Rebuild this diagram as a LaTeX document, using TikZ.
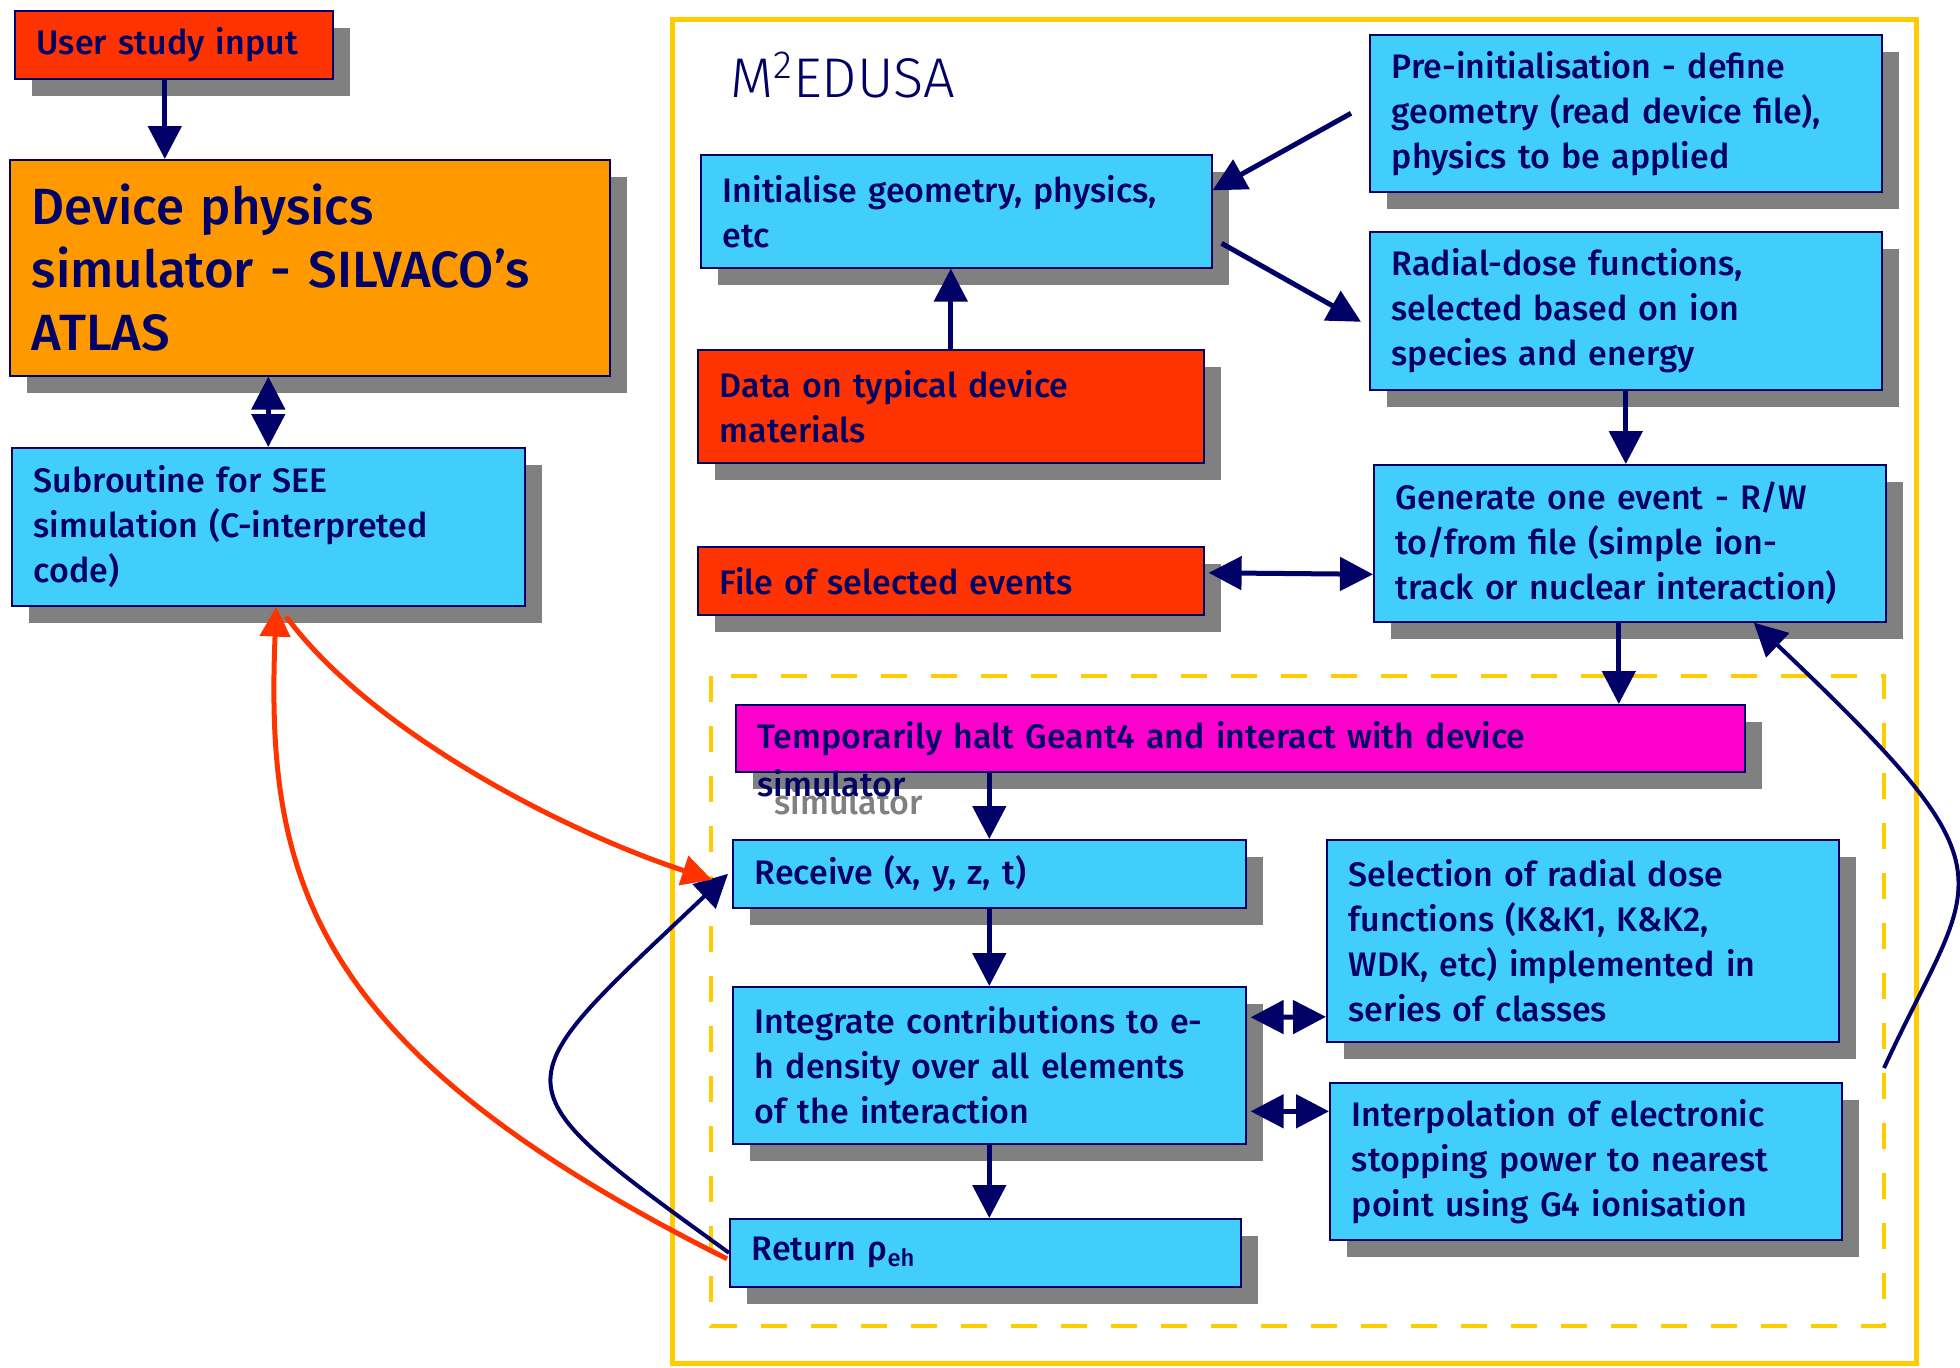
\documentclass[tikz,border=0pt]{standalone}
\usepackage{fontspec}
\setmainfont{Fira Sans}[UprightFont=* Medium]
\newfontfamily\titlefont{Fira Sans Light}
\usetikzlibrary{arrows.meta,shadows}
\hyphenpenalty=10000

\definecolor{navy}{RGB}{0,0,102}
\definecolor{skyfill}{RGB}{66,206,250}
\definecolor{redfill}{RGB}{255,51,0}
\definecolor{orangefill}{RGB}{255,153,0}
\definecolor{magentafill}{RGB}{255,0,204}
\definecolor{shadowgrey}{RGB}{128,128,128}
\definecolor{frameyellow}{RGB}{255,204,0}

\tikzset{
  box/.style 2 args={draw=navy, line width=0.8pt, anchor=north west, inner xsep=11pt, inner ysep=0pt,
    text width=#1, minimum height=#2, align=left, text=navy, font=\fontsize{17}{22.5}\selectfont,
    drop shadow={shadow xshift=8.5pt, shadow yshift=-8.5pt, fill=shadowgrey, opacity=1}},
  arr/.style={draw=navy, line width=2.5pt, -{Triangle[length=16.5pt,width=16.5pt]}},
  dblarr/.style={draw=navy, line width=2.5pt, {Triangle[length=16.5pt,width=16.5pt]}-{Triangle[length=16.5pt,width=16.5pt]}},
  redarr/.style={draw=redfill, line width=2.5pt, -{Triangle[length=15pt,width=15pt]}},
}

\begin{document}
\begin{tikzpicture}[x=0.5pt,y=-0.5pt]
\useasboundingbox (0,0) rectangle (1960,1367);

% frames
\draw[frameyellow, line width=2.5pt] (672,19) rectangle (1916,1363);
\draw[frameyellow, line width=2pt, dash pattern=on 13pt off 12pt] (711,676) rectangle (1884,1326);
\node[anchor=base west, inner sep=0pt, text=navy, font=\titlefont\fontsize{28}{30}\selectfont] (title) at (730,97) {M\textsuperscript{2}EDUSA};

% left column
\node[box={137pt}{34pt}, fill=redfill] (user) at (14,10) {User study input};
\node[box={278pt}{108pt}, fill=orangefill, font=\fontsize{25.5}{31.5}\selectfont] (device) at (9,159) {Device physics\\simulator - SILVACO’s\\ATLAS};
\node[box={234.5pt}{79pt}, fill=skyfill] (subr) at (11,447) {Subroutine for SEE\\simulation (C-interpreted\\code)};

% M2EDUSA
\node[box={234pt}{78.5pt}, fill=skyfill] (preinit) at (1369,34) {Pre-initialisation - define\\geometry (read device file),\\physics to be applied};
\node[box={233.5pt}{56.5pt}, fill=skyfill] (init) at (700,154) {Initialise geometry, physics,\\etc};
\node[box={234pt}{79pt}, fill=skyfill] (radial) at (1369,231) {Radial-dose functions,\\selected based on ion\\species and energy};
\node[box={231pt}{56.5pt}, fill=redfill] (data) at (697,349) {Data on typical device\\materials};
\node[box={234pt}{78.5pt}, fill=skyfill] (generate) at (1373,464) {Generate one event - R/W\\to/from file (simple ion-\\track or nuclear interaction)};
\node[box={231pt}{34pt}, fill=redfill] (file) at (697,546) {File of selected events};

% device interaction
\node[box={482.5pt}{33.5pt}, fill=magentafill] (halt) at (735,704) {Temporarily halt Geant4 and interact with device};
\node[anchor=base west, inner sep=0pt, text=shadowgrey, font=\fontsize{17}{22.5}\selectfont] (simghost) at ([shift={(19.5pt,-21pt)}]halt.south west) {simulator};
\node[anchor=base west, inner sep=0pt, text=navy, font=\fontsize{17}{22.5}\selectfont] (simtext) at ([shift={(11pt,-12pt)}]halt.south west) {simulator};
\node[box={234.5pt}{34pt}, fill=skyfill] (receive) at (732,839) {Receive (x, y, z, t)};
\node[box={234.5pt}{78.5pt}, fill=skyfill] (integ) at (732,986) {Integrate contributions to e-\\h density over all elements\\of the interaction};
\node[box={233.5pt}{34pt}, fill=skyfill] (ret) at (729,1218) {Return ρ\textsubscript{eh}};
\node[box={234pt}{101pt}, fill=skyfill] (select) at (1326,839) {Selection of radial dose\\functions (K\&K1, K\&K2,\\WDK, etc) implemented in\\series of classes};
\node[box={234pt}{78.5pt}, fill=skyfill] (interp) at (1329,1082) {Interpolation of electronic\\stopping power to nearest\\point using G4 ionisation};

% connectors
\draw[arr] ([xshift=-4.5pt]user.south) -- ([xshift=-4.5pt]user.south |- device.north);
\draw[dblarr] (subr.north |- device.south) -- (subr.north);
\draw[arr] (data.north) -- (data.north |- init.south);
\draw[arr] ([xshift=-9pt]preinit.west) -- ([yshift=10.5pt]init.east);
\draw[arr] ([shift={(4.5pt,-16pt)}]init.east) -- ([shift={(-4pt,-5.5pt)}]radial.west);
\draw[arr] (radial.south) -- (radial.south |- generate.north);
\draw[dblarr] ([shift={(2pt,4pt)}]file.east) -- ([yshift=-15.5pt]generate.west);
\draw[arr] ([xshift=-5.5pt]generate.south) -- ([xshift=-5.5pt]generate.south |- halt.north);
\draw[arr] (receive.north |- halt.south) -- (receive.north);
\draw[arr] (receive.south) -- (integ.north);
\draw[arr] (integ.south) -- (integ.south |- ret.north);
\draw[dblarr] ([shift={(2pt,24pt)}]integ.east) -- ([yshift=-38pt]select.west);
\draw[dblarr] ([shift={(2pt,-23pt)}]integ.east) -- ([yshift=25pt]interp.west);

% loops
\coordinate (loopstart) at (1884,1068);
\draw[arr, line width=2pt] (loopstart) .. controls (1975,870) and (2025,880) .. ([xshift=62pt]generate.south);
\draw[arr, line width=2pt] (ret.west) .. controls (490,1080) and (500,1090) .. ([xshift=-2pt]receive.west);
\draw[redarr] ([shift={(-1pt,-3pt)}]ret.west) .. controls (310,1050) and (265,880) .. ([xshift=4pt]subr.south);
\draw[redarr] ([shift={(9pt,-5pt)}]subr.south) .. controls (370,730) and (560,830) .. ([shift={(-10pt,-3pt)}]receive.west);
\end{tikzpicture}
\end{document}
